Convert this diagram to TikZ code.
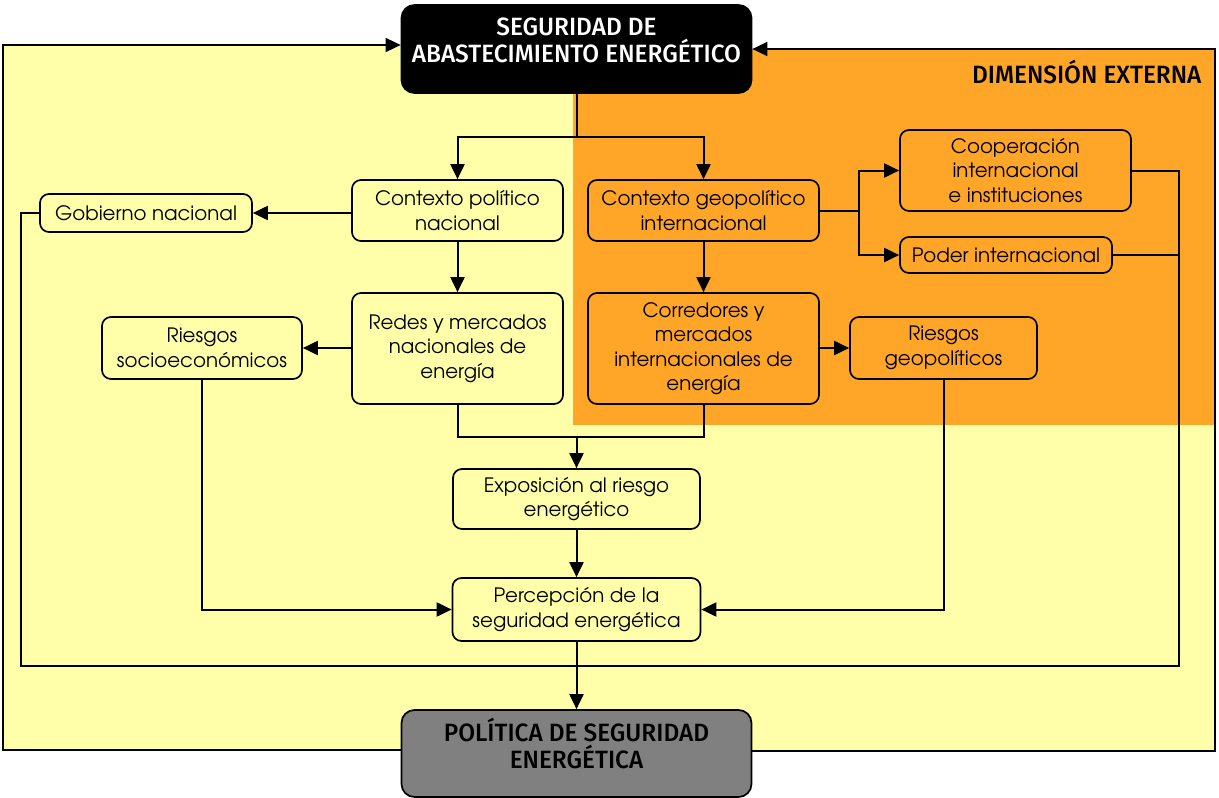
\documentclass[tikz,border=0pt]{standalone}
\usepackage{fontspec}
\setmainfont{TeX Gyre Adventor}
\newfontfamily\headfont[FakeStretch=0.975]{Fira Sans Medium}
\usetikzlibrary{arrows.meta}
\definecolor{ybg}{RGB}{255,255,170}
\definecolor{obg}{RGB}{255,165,40}
\definecolor{gbox}{RGB}{128,128,128}
\begin{document}
\begin{tikzpicture}[x=1pt,y=-1pt,
  box/.style={draw, line width=1.7pt, rounded corners=9pt, fill=ybg, align=center, inner sep=0pt, font=\fontsize{19.8}{24.5}\selectfont},
  obox/.style={box, fill=obg},
  bigbox/.style={draw, line width=1.7pt, rounded corners=13pt, minimum width=350pt, minimum height=88pt, inner sep=0pt},
  headtext/.style={font=\headfont\fontsize{25}{27}\selectfont, align=center},
  arr/.style={line width=2pt, -{Triangle[length=15pt,width=14pt]}},
  ln/.style={line width=2pt},
  outl/.style={line width=1.6pt, -{Triangle[length=15pt,width=14pt]}},
]
\useasboundingbox (0,0) rectangle (1219,798);
\fill[white] (0,0) rectangle (1219,798);
\fill[ybg] (3,45) -- (751,45) -- (751,49) -- (1215,49) -- (1215,750) -- (3,750) -- cycle;
\fill[obg] (573,49) rectangle (1215,425);
\node[headtext, anchor=east] (dim) at (1205,72) {DIMENSIÓN EXTERNA};

% main boxes
\node[bigbox, fill=black, label={[headtext, text=white, yshift=9pt, name=toptext]center:{SEGURIDAD DE\\ABASTECIMIENTO ENERGÉTICO}}] (top) at (576.5,49) {};
\node[bigbox, fill=gbox, minimum height=87pt, label={[headtext, text=black, yshift=10pt, name=poltext]center:{POLÍTICA DE SEGURIDAD\\ENERGÉTICA}}] (pol) at (576.5,753.5) {};

\node[box, minimum width=211pt, minimum height=61pt] (cpn) at (457.5,210.5) {Contexto político\\nacional};
\node[box, minimum width=212pt, minimum height=38pt] (gob) at (146,213) {Gobierno nacional};
\node[obox, minimum width=231pt, minimum height=61pt] (cgi) at (703.5,210.5) {Contexto geopolítico\\internacional};
\node[obox, minimum width=231pt, minimum height=81pt] (coop) at (1015.5,170.5) {Cooperación\\internacional\\e instituciones};
\node[obox, minimum width=212pt, minimum height=36pt] (poder) at (1006,255) {Poder internacional};
\node[box, minimum width=211pt, minimum height=111pt] (redes) at (457.5,348.5) {Redes y mercados\\nacionales de\\energía};
\node[box, minimum width=200pt, minimum height=62pt] (rsoc) at (202,348) {Riesgos\\socioeconómicos};
\node[obox, minimum width=231pt, minimum height=111pt] (corr) at (703.5,348.5) {Corredores y\\mercados\\internacionales de\\energía};
\node[obox, minimum width=187pt, minimum height=62pt] (rgeo) at (943.5,348) {Riesgos\\geopolíticos};
\node[box, minimum width=247pt, minimum height=60pt] (expo) at (576.5,499) {Exposición al riesgo\\energético};
\node[box, minimum width=248pt, minimum height=63pt] (perc) at (576.5,609.5) {Percepción de la\\seguridad energética};

% junction coordinates
\coordinate (j1) at (576.5,137);
\coordinate (j2) at (859,210.5);
\coordinate (j3) at (576.5,437);
\coordinate (jl) at (21,666);
\coordinate (jr) at (1179,666);
\coordinate (bl) at (3,750);
\coordinate (tl) at (3,45);
\coordinate (br) at (1215,751);
\coordinate (tr) at (1215,49);

% connectors
\draw[ln] (top.south) -- (j1);
\draw[arr] (j1) -| (cpn.north);
\draw[arr] (j1) -| (cgi.north);
\draw[arr] (cpn.west |- gob.east) -- (gob.east);
\draw[arr] (cpn.south) -- (redes.north);
\draw[arr] (redes.west |- rsoc.east) -- (rsoc.east);
\draw[arr] (cgi.south) -- (corr.north);
\draw[arr] (corr.east |- rgeo.west) -- (rgeo.west);
\draw[ln] (cgi.east) -- (j2);
\draw[arr] (j2) |- (coop.west);
\draw[arr] (j2) |- (poder.west);
\draw[ln] (redes.south) |- (j3) -| (corr.south);
\draw[arr] (j3) -- (expo.north);
\draw[arr] (expo.south) -- (perc.north);
\draw[arr] (rsoc.south) |- (perc.west);
\draw[arr] (rgeo.south) |- (perc.east);
\draw[arr] (perc.south) -- (pol.north);
\draw[ln] (gob.west) -| (jl) -- (jr) |- (coop.east);
\draw[ln] (poder.east) -- (poder.east -| jr);

% outer feedback border
\draw[outl] (pol.west |- bl) -- (bl) -- (tl) -- (top.west |- tl);
\draw[outl] (pol.east |- br) -- (br) -- (tr) -- (top.east |- tr);
\end{tikzpicture}
\end{document}
